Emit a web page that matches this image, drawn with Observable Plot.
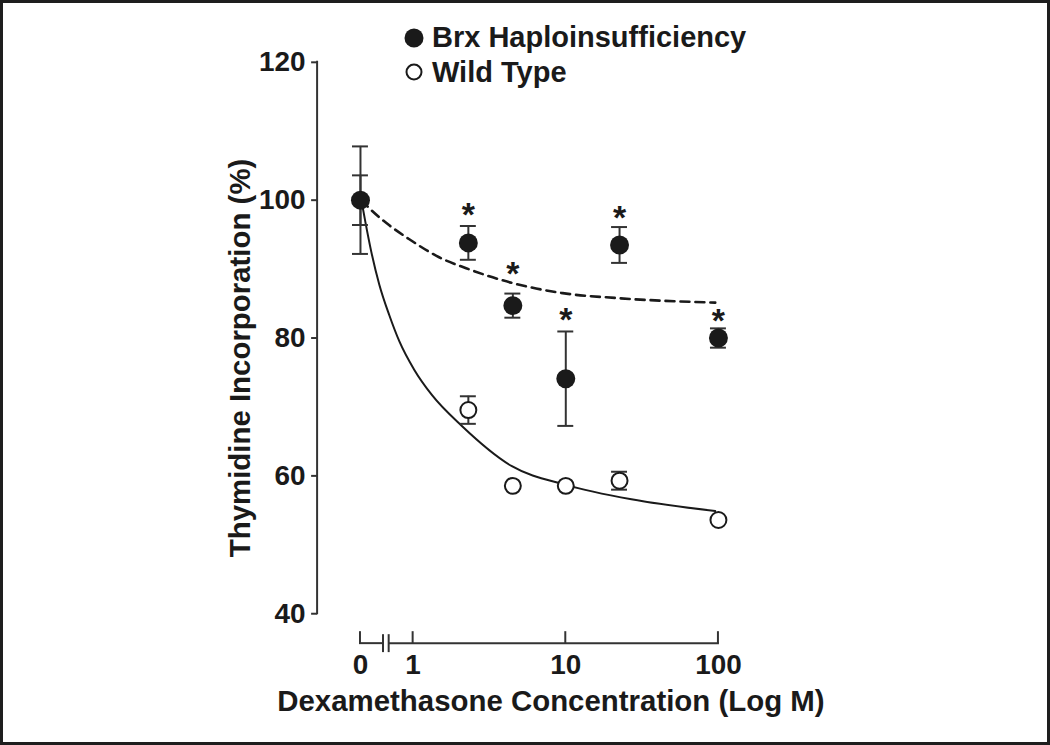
<!DOCTYPE html>
<html>
<head>
<meta charset="utf-8">
<script src="https://cdn.jsdelivr.net/npm/d3@7"></script>
<script src="https://cdn.jsdelivr.net/npm/@observablehq/plot@0.6"></script>
<style>
  html, body { margin: 0; padding: 0; background: #fff; }
  #wrap { position: relative; width: 1050px; height: 745px; box-sizing: border-box; border: 3px solid #1e1e1e; overflow: hidden; }
  #chart { position: absolute; left: -3px; top: -3px; }
  .lg-row { position: absolute; display: flex; align-items: center; height: 30px;
            font-family: "Liberation Sans", Arial, sans-serif; font-weight: bold; font-size: 29px; color: #1a1a1a; line-height: 1; }
  .lg-row svg { display: block; }
  .lg-row span { margin-left: 8px; white-space: nowrap; }
</style>
</head>
<body>
<div id="wrap"><div id="chart"></div></div>
<script>
// ---------------- data ----------------
const concentrations = [0, 2.3, 4.5, 10, 22.5, 100];           // dexamethasone (0 = control)
const brxMean = [100, 93.8, 84.7, 74.1, 93.5, 80.0];             // Brx haploinsufficiency
const brxErr  = [3.6, 2.45, 1.75, 6.85, 2.6, 1.4];
const wtMean  = [100, 69.55, 58.55, 58.55, 59.3, 53.6];          // wild type
const wtErr   = [7.8, 2.0, 0, 0, 1.3, 0];
const starLevel = [null, 99.1, 90.5, 83.9, 98.7, 83.7];          // significance asterisks (Brx)
const starLabel = "*";

// fitted curves, read along the axis (log10 position; control sits left of the break)
const wtFitU = [-0.339, -0.313, -0.274, -0.221, -0.156, -0.090, 0.007, 0.124, 0.321, 0.647, 0.999, 1.430, 1.979];
const wtFitY = [100.0, 96.85, 92.5, 87.7, 83.3, 79.5, 75.4, 71.7, 67.2, 61.4, 58.7, 56.6, 54.9];
const brxFitU = [-0.339, -0.274, -0.156, -0.025, 0.170, 0.347, 0.654, 0.980, 1.339, 1.979];
const brxFitY = [100.0, 98.55, 96.35, 94.33, 91.72, 90.13, 87.96, 86.51, 85.79, 85.14];

const xTickValues = [0, 1, 10, 100];
const yTicks = [40, 60, 80, 100, 120];
const seriesNames = ["Brx Haploinsufficiency", "Wild Type"];
const xLabel = "Dexamethasone Concentration (Log M)";
const yLabel = "Thymidine Incorporation (%)";

// ---------------- layout helpers ----------------
const ZERO_POS = -0.345;             // where the control (0) sits on the broken log axis
const BREAK = [-0.194, -0.157];      // axis break marks
const pos = c => c === 0 ? ZERO_POS : Math.log10(c);
const INK = "#1a1a1a";
const LINE = "#333";

const brx = concentrations.map((c, i) => ({u: pos(c), y: brxMean[i], lo: brxMean[i] - brxErr[i], hi: brxMean[i] + brxErr[i], err: brxErr[i], star: starLevel[i]}));
const wt  = concentrations.map((c, i) => ({u: pos(c), y: wtMean[i], lo: wtMean[i] - wtErr[i], hi: wtMean[i] + wtErr[i], err: wtErr[i]}));
const wtFit = wtFitU.map((u, i) => ({u, y: wtFitY[i]}));
const brxFit = brxFitU.map((u, i) => ({u, y: brxFitY[i]}));
const xTickPos = xTickValues.map(pos);
const xTickText = new Map(xTickValues.map(v => [pos(v), String(v)]));

// axis lines (y axis line, broken x baseline, x ticks) drawn through Plot's scales
function axisLines(index, scales, values, dims) {
  const x = scales.x, y = scales.y;
  const g = d3.create("svg:g").attr("fill", "none").attr("stroke", LINE).attr("stroke-width", 2);
  const y0 = dims.height - dims.marginBottom;
  const xl = dims.marginLeft;
  g.append("line").attr("x1", xl).attr("x2", xl).attr("y1", y(d3.max(yTicks)) - 1).attr("y2", y(d3.min(yTicks)) + 1);
  const xs = x(pos(0)), xe = x(pos(d3.max(xTickValues)));
  g.append("line").attr("x1", xs - 1).attr("x2", x(BREAK[0])).attr("y1", y0).attr("y2", y0);
  g.append("line").attr("x1", x(BREAK[1])).attr("x2", xe + 1).attr("y1", y0).attr("y2", y0);
  for (const b of BREAK) g.append("line").attr("x1", x(b)).attr("x2", x(b)).attr("y1", y0 - 9).attr("y2", y0 + 9);
  for (const t of xTickPos) g.append("line").attr("x1", x(t)).attr("x2", x(t)).attr("y1", y0 - 12).attr("y2", y0);
  return g.node();
}

const withErr = arr => arr.filter(d => d.err > 0);

const chart = Plot.plot({
  width: 1050,
  height: 745,
  marginLeft: 318,
  marginRight: 330,
  marginTop: 62,
  marginBottom: 100,
  x: {type: "linear", domain: [ZERO_POS, 2], insetLeft: 43, label: null},
  y: {domain: [40, 120], insetBottom: 30, label: null},
  style: {background: "transparent", fontFamily: "'Liberation Sans', Arial, sans-serif", fontWeight: "bold", fontSize: "28px", color: INK},
  marks: [
    axisLines,
    Plot.axisY(yTicks, {tickSize: 6, tickPadding: 6, strokeWidth: 2, stroke: LINE, label: null, fontSize: 28}),
    Plot.axisX(xTickPos, {tickSize: 0, tickPadding: 11, tickFormat: d => xTickText.get(d), label: null, fontSize: 28}),
    Plot.line(wtFit, {x: "u", y: "y", curve: "monotone-x", stroke: INK, strokeWidth: 2}),
    Plot.line(brxFit, {x: "u", y: "y", curve: "monotone-x", stroke: INK, strokeWidth: 2.6, strokeDasharray: "9,6"}),
    Plot.ruleX(withErr(wt), {x: "u", y1: "lo", y2: "hi", stroke: LINE, strokeWidth: 2}),
    Plot.ruleY(withErr(wt), {y: "lo", x1: "u", x2: "u", insetLeft: -8, insetRight: -8, stroke: LINE, strokeWidth: 2}),
    Plot.ruleY(withErr(wt), {y: "hi", x1: "u", x2: "u", insetLeft: -8, insetRight: -8, stroke: LINE, strokeWidth: 2}),
    Plot.ruleX(withErr(brx), {x: "u", y1: "lo", y2: "hi", stroke: LINE, strokeWidth: 2}),
    Plot.ruleY(withErr(brx), {y: "lo", x1: "u", x2: "u", insetLeft: -8, insetRight: -8, stroke: LINE, strokeWidth: 2}),
    Plot.ruleY(withErr(brx), {y: "hi", x1: "u", x2: "u", insetLeft: -8, insetRight: -8, stroke: LINE, strokeWidth: 2}),
    Plot.dot(wt.filter(d => d.u !== ZERO_POS), {x: "u", y: "y", r: 8, fill: "white", stroke: INK, strokeWidth: 2}),
    Plot.dot(brx, {x: "u", y: "y", r: 9.5, fill: INK}),
    Plot.text(brx.filter(d => d.star != null), {x: "u", y: "star", text: () => starLabel, fontSize: 34, dy: 9, fill: INK}),
    Plot.text([xLabel], {frameAnchor: "bottom", text: d => d, textAnchor: "middle", lineAnchor: "middle", dx: 33, dy: 58, fontSize: 29.5, fill: INK}),
    Plot.text([yLabel], {frameAnchor: "left", text: d => d, textAnchor: "middle", lineAnchor: "middle", rotate: -90, dx: -77, dy: 5, fontSize: 29.5, fill: INK})
  ]
});
document.getElementById("chart").appendChild(chart);

// legend (HTML overlay)
const legendRows = [
  {name: seriesNames[0], filled: true, top: 22.5},
  {name: seriesNames[1], filled: false, top: 57}
];
const wrap = document.getElementById("wrap");
for (const row of legendRows) {
  const div = document.createElement("div");
  div.className = "lg-row";
  div.style.left = (404 - 3) + "px";
  div.style.top = (row.top - 3) + "px";
  div.innerHTML = `<svg width="20" height="20" viewBox="0 0 20 20">${row.filled
    ? `<circle cx="10" cy="10" r="9.5" fill="${INK}"/>`
    : `<circle cx="10" cy="10" r="7.5" fill="white" stroke="${INK}" stroke-width="2"/>`}</svg><span></span>`;
  div.querySelector("span").textContent = row.name;
  wrap.appendChild(div);
}
</script>
</body>
</html>
